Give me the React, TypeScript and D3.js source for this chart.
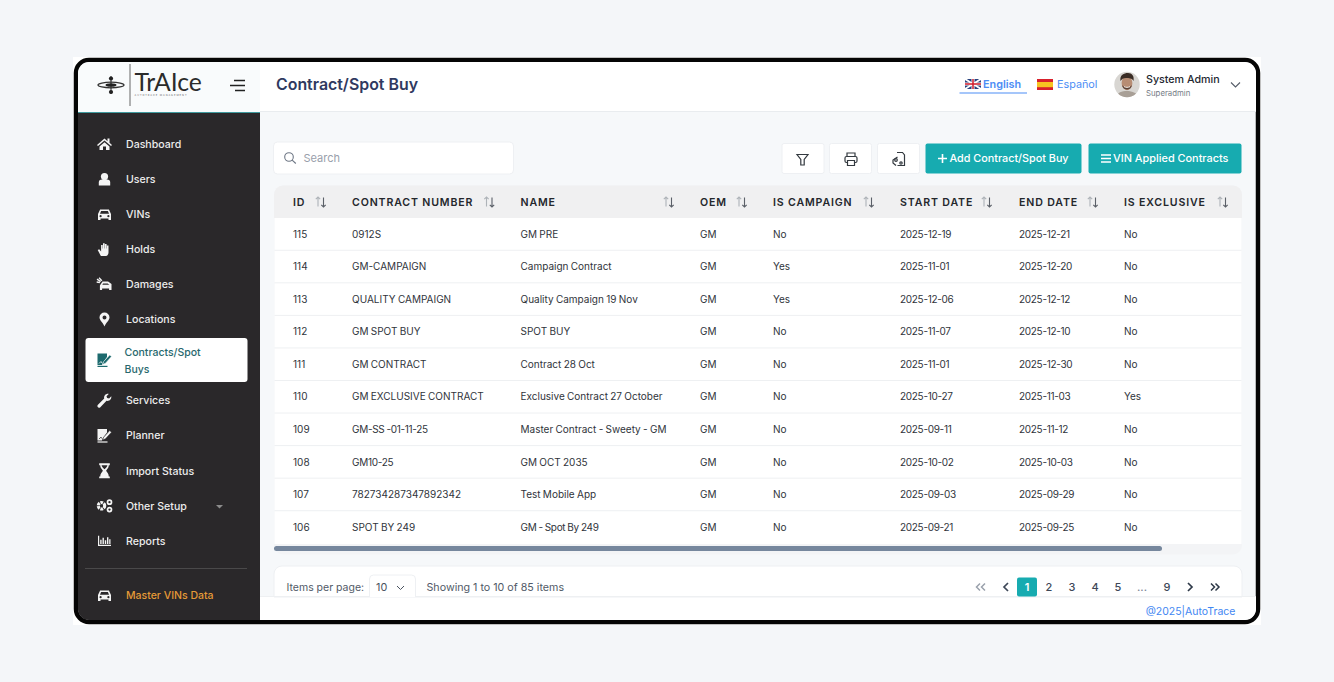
import React from "react";
import * as d3 from "d3";

const menuLabels = ["Dashboard", "Users", "VINs", "Holds", "Damages", "Locations", "Contracts/Spot Buys", "Services", "Planner", "Import Status", "Other Setup", "Reports"];
const menuCentres = [144.6, 179.6, 214.6, 249.6, 284.6, 319.6, 360, 400.6, 435.6, 470.8, 505.8, 540.8];
const headers = ["ID", "CONTRACT NUMBER", "NAME", "OEM", "IS CAMPAIGN", "START DATE", "END DATE", "IS EXCLUSIVE"];
const columnLefts = [293, 352, 520.5, 700, 773, 900, 1019, 1124];
const sortLefts = [321, 489.5, 669, 742, 869, 987, 1093, 1223];
const ids = ["115", "114", "113", "112", "111", "110", "109", "108", "107", "106"];
const contractNumbers = ["0912S", "GM-CAMPAIGN", "QUALITY CAMPAIGN", "GM SPOT BUY", "GM CONTRACT", "GM EXCLUSIVE CONTRACT", "GM-SS -01-11-25", "GM10-25", "782734287347892342", "SPOT BY 249"];
const names = ["GM PRE", "Campaign Contract", "Quality Campaign 19 Nov", "SPOT BUY", "Contract 28 Oct", "Exclusive Contract 27 October", "Master Contract - Sweety - GM", "GM OCT 2035", "Test Mobile App", "GM - Spot By 249"];
const oems = ["GM", "GM", "GM", "GM", "GM", "GM", "GM", "GM", "GM", "GM"];
const campaigns = ["No", "Yes", "Yes", "No", "No", "No", "No", "No", "No", "No"];
const startDates = ["2025-12-19", "2025-11-01", "2025-12-06", "2025-11-07", "2025-11-01", "2025-10-27", "2025-09-11", "2025-10-02", "2025-09-03", "2025-09-21"];
const endDates = ["2025-12-21", "2025-12-20", "2025-12-12", "2025-12-10", "2025-12-30", "2025-11-03", "2025-11-12", "2025-10-03", "2025-09-29", "2025-09-25"];
const exclusives = ["No", "No", "No", "No", "No", "Yes", "No", "No", "No", "No"];
const pages = ["1", "2", "3", "4", "5", "...", "9"];
const pageCentres = [1027, 1049, 1072, 1095, 1118, 1142, 1167];

const F = "Inter, 'Noto Sans', sans-serif";
const TEAL = "#17abb0";
const rowY = d3.scalePoint<string>().domain(ids).range([234, 527]);
const rowStep = rowY.step();
const menuY = d3.scaleOrdinal<string, number>().domain(menuLabels).range(menuCentres);
const columnX = d3.scaleOrdinal<string, number>().domain(headers).range(columnLefts);
const sortX = d3.scaleOrdinal<string, number>().domain(headers).range(sortLefts);
const pageX = d3.scaleOrdinal<string, number>().domain(pages).range(pageCentres);
const rowColumns = [ids, contractNumbers, names, oems, campaigns, startDates, endDates, exclusives];

const CAR = "M-6.5 5.5V-.5L-4.4-5H4.4L6.5-.5V5.5H4V4H-4V5.5ZM-3.4-3.6-4.5-.8H4.5L3.4-3.6ZM-5 1.6a1.1 1.1 0 1 0 2.2 0a1.1 1.1 0 1 0-2.2 0M2.8 1.6a1.1 1.1 0 1 0 2.2 0a1.1 1.1 0 1 0-2.2 0";

function MenuIcon({ i, y }: { i: number; y: number }) {
  const x = 104.5;
  const w = "#f4f4f4";
  const g = (c: React.ReactNode) => <g transform={`translate(${x},${y})`}>{c}</g>;
  switch (i) {
    case 0: return g(<path d="M-7.5 0.5L0-6l3 2.6V-6h2v4.2L7.5 .5 6.5 1.5 0-4-6.5 1.5ZM-5 2L0-2.3 5 2V5.5H1.5V2h-3V5.5H-5Z" fill={w} />);
    case 1: return g(<><circle cy={-3} r={3.6} fill={w} /><path d="M-5.7 6V2.5C-5.7 .8-4 0-2.5 0h5C4 0 5.7.8 5.7 2.5V6Z" fill={w} /></>);
    case 2: return g(<path d={CAR} fill={w} fillRule="evenodd" />);
    case 3: return g(<path d="M-3.6 6.5-6.8 .5l1.5-.8L-3.4 2V-4.5h1.6V-1h.3V-6.3h1.7V-1h.3V-5.5H2.1V-1h.3V-4H4V3C4 5.2 2.6 6.5 .8 6.5Z" fill={w} />);
    case 4: return g(<><path d="M-4.6 1-2-3H3.6L7-.5V5.5H4.6V4H-2.4V5.5H-4.6Z" fill={w} /><path d="M-7.5-5.5-3.8-3M-5.5-6.8-2.6-3.8M-7.8-2.6-4.6-2" stroke={w} strokeWidth={1.3} /><path d="M-1.4-1.2H3.2L4.8 .2H-2.2Z" fill="#2a282a" /></>);
    case 5: return g(<path fillRule="evenodd" d="M0 7C-1.2 3.5-5 .8-5-2A5 5 0 1 1 5-2C5 .8 1.2 3.5 0 7ZM-2-2a2 2 0 1 0 4 0a2 2 0 1 0-4 0Z" fill={w} />);
    case 6: return g(<><path d="M-7-6.5H2.5V-3L-1.5 2.5-2.5 5H-7Z" fill="#1d6a6e" /><path d="M-7 5.8H3V7H-7Z" fill="#1d6a6e" /><path d="M-2 4.5-.8 1.5 5.2-5 7-3.4 1 3.2Z" fill="#1d6a6e" stroke="#fff" strokeWidth={.5} /><path d="M-5.5 3.5-3.5 1.5-2.5 3" stroke="#fff" strokeWidth={.8} fill="none" /></>);
    case 7: return g(<path d="M-6.8 4.4-.3-2C-.9-4.6 1-7 4.2-6.7L2-4.4 2.6-2.6 4.6-2 6.8-4.4C7.2-1.4 4.8.8 2 .2L-4.4 6.8C-5.9 8-8 5.9-6.8 4.4Z" fill={w} />);
    case 8: return g(<><path d="M-7-6.5H2.5V-3L-1.5 2.5-2.5 5H-7Z" fill={w} /><path d="M-7 5.8H3V7H-7Z" fill={w} /><path d="M-2 4.5-.8 1.5 5.2-5 7-3.4 1 3.2Z" fill={w} stroke="#2a282a" strokeWidth={.5} /><path d="M-5.5 3.5-3.5 1.5-2.5 3" stroke="#2a282a" strokeWidth={.8} fill="none" /></>);
    case 9: return g(<><path d="M-5.3-7.5H5.3V-5.6H4.3C4.3-2.6 2.2-1.5 1.6 0 2.2 1.5 4.3 2.6 4.3 5.6H5.3V7.5H-5.3V5.6H-4.3C-4.3 2.6-2.2 1.5-1.6 0-2.2-1.5-4.3-2.6-4.3-5.6H-5.3Z" fill={w} /><path d="M-2.9-5.6H2.9C2.8-4 1.5-3 0-1.6-1.5-3-2.8-4-2.9-5.6Z" fill="#2a282a" /></>);
    case 10: return g(<><circle cx={-3} cy={0} r={3.2} fill="none" stroke={w} strokeWidth={3.2} strokeDasharray="2.6 .8" /><circle cx={-3} cy={0} r={1.2} fill="#2a282a" /><circle cx={5} cy={-3.6} r={2} fill="none" stroke={w} strokeWidth={1.7} /><circle cx={5} cy={3.8} r={2} fill="none" stroke={w} strokeWidth={1.7} /></>);
    default: return g(<path d="M-6.5-5H-5.3V4H6.5V5.2H-6.5ZM-4.3-1H-2.9V3.2H-4.3ZM-2-3H-.6V3.2H-2ZM.3-.5H1.7V3.2H.3ZM2.5-3.5H3.9V3.2H2.5ZM4.7-1.5H6V3.2H4.7Z" fill={w} />);
  }
}

function SortIcon({ x }: { x: number }) {
  return (
    <g transform={`translate(${x},202)`} fill="none" strokeWidth={1.1}>
      <path d="M-3-5V4.5M-5.2-2.8-3-5-.8-2.8" stroke="#aeb3b8" />
      <path d="M2.5-4.5V5M.3 2.8 2.5 5 4.7 2.8" stroke="#5b6068" />
    </g>
  );
}

export default function App() {
  return (
    <svg width={1334} height={682} style={{ position: "absolute", left: 0, top: 0, fontFamily: F }}>
      <rect width={1334} height={682} fill="#f4f6f9" />
      <rect x={73} y={57} width={1188} height={568} fill="#fff" />
      <rect x={76} y={60} width={1182} height={562} rx={13} fill="#f6f8fa" stroke="#050505" strokeWidth={4.5} />
      <clipPath id="inner"><rect x={78} y={62} width={1178} height={558} rx={11} /></clipPath>
      <g clipPath="url(#inner)">
        <rect x={260} y={62} width={996} height={50} fill="#fff" />
        <line x1={260} x2={1256} y1={111.5} y2={111.5} stroke="#e9ecef" />
        <rect x={78} y={62} width={182} height={50} fill="#f9fbfc" />
        <rect x={78} y={112} width={182} height={508} fill="#2a282a" />
        <line x1={78} x2={260} y1={112.5} y2={112.5} stroke="#3f9a9e" />
        <rect x={260} y={597} width={996} height={23} fill="#fff" />
      </g>

      {/* logo */}
      <g transform="translate(111,85)">
        <ellipse rx={13} ry={2.8} fill="none" stroke="#333" strokeWidth={1.3} />
        <ellipse rx={5.5} ry={1.8} fill="#222" />
        <circle cy={-6.5} r={2.1} fill="#222" />
        <circle cy={7} r={2.1} fill="#222" />
        <line y1={-9} y2={9} stroke="#222" strokeWidth={1} />
      </g>
      <line x1={130} x2={130} y1={64} y2={106} stroke="#666" strokeWidth={1} />
      <text x={134.5} y={91} fontSize={24.7} fill="#2b2b2b" fontFamily="Lato, Inter, sans-serif">TrAIce</text>
      <text x={134.5} y={95.5} fontSize={2.5} letterSpacing={.95} fill="#666">AUTOTRACE MANAGEMENT</text>
      <path d="M234 80.5H245M230 85.5H245M235 90.5H245" stroke="#222" strokeWidth={1.5} />

      <text x={276} y={90} fontSize={15.9} fontWeight={600} fill="#2f3960">Contract/Spot Buy</text>

      {/* language */}
      <g transform="translate(965,79)">
        <rect width={16} height={10} fill="#27407d" />
        <path d="M0 0 16 10M16 0 0 10" stroke="#fff" strokeWidth={2} />
        <path d="M8 0V10M0 5H16" stroke="#fff" strokeWidth={3} />
        <path d="M8 0V10M0 5H16" stroke="#cf1b2b" strokeWidth={1.5} />
      </g>
      <text x={983} y={88} fontSize={10.8} fontWeight={600} fill="#4c8df5">English</text>
      <line x1={959.5} x2={1027} y1={93} y2={93} stroke="#4c8df5" strokeWidth={1.2} />
      <g transform="translate(1037,79)">
        <rect width={16} height={11} fill="#d8202c" />
        <rect y={3} width={16} height={5.2} fill="#f7c321" />
      </g>
      <text x={1057} y={88} fontSize={10.8} fill="#4c8df5">Español</text>
      <clipPath id="avatar"><circle cx={1127} cy={84.5} r={12.7} /></clipPath>
      <g clipPath="url(#avatar)">
        <rect x={1114} y={71} width={27} height={27} fill="#d8d6d2" />
        <path d="M1116 98C1117 92 1122 91 1127 91S1138 93 1139 98Z" fill="#a89f96" />
        <ellipse cx={1127} cy={83} rx={5.4} ry={7.2} fill="#b78d74" />
        <path d="M1120.5 81C1119.5 75 1124 73 1128 73S1134.5 76 1133.5 81C1132 78 1129 78 1126 78S1122 79 1120.5 81Z" fill="#3a2c25" />
        <path d="M1122 85C1123 91 1131 91 1132 85C1130 88 1124 88 1122 85Z" fill="#5a4338" />
        <path d="M1124 86.6C1125.5 87.6 1128.5 87.6 1130 86.6" stroke="#f4ede7" strokeWidth={1} fill="none" />
      </g>
      <text x={1146} y={82.5} fontSize={10.7} fontWeight={500} fill="#23272f">System Admin</text>
      <text x={1146} y={95.5} fontSize={7.8} fill="#767c86">Superadmin</text>
      <path d="M1231 82.5 1235.5 87 1240 82.5" fill="none" stroke="#555c68" strokeWidth={1.1} />

      {/* sidebar */}
      <rect x={85.5} y={338} width={162} height={44} rx={3} fill="#fff" />
      {menuLabels.map((label, i) => {
        const y = menuY(label);
        if (i === 6) {
          return (
            <g key={label}>
              <MenuIcon i={i} y={y} />
              <text x={124.5} y={355.5} fontSize={10.5} fontWeight={500} fill="#27686d">Contracts/Spot</text>
              <text x={124.5} y={373} fontSize={10.5} fontWeight={500} fill="#27686d">Buys</text>
            </g>
          );
        }
        return (
          <g key={label}>
            <MenuIcon i={i} y={y} />
            <text x={126} y={y + 3.8} fontSize={10.6} fontWeight={500} fill="#ececec">{label}</text>
          </g>
        );
      })}
      <path d="M216 505H223L219.5 508.5Z" fill="#8c8c8c" />
      <line x1={85} x2={247} y1={568.5} y2={568.5} stroke="#4a494a" />
      <g transform="translate(104.5,595.6)"><path d={CAR} fill="#f4f4f4" fillRule="evenodd" /></g>
      <text x={126} y={599.4} fontSize={10.5} fontWeight={500} fill="#e59a37">Master VINs Data</text>

      {/* toolbar */}
      <rect x={273.5} y={142} width={240} height={32} rx={4} fill="#fff" stroke="#eef0f3" />
      <circle cx={289} cy={157} r={4.3} fill="none" stroke="#6d7684" strokeWidth={1.1} />
      <line x1={292.2} y1={160.2} x2={295.8} y2={163.5} stroke="#6d7684" strokeWidth={1.1} />
      <text x={303.5} y={162} fontSize={11} fill="#99a0ab">Search</text>
      {[782, 829.5, 877.5].map(x => <rect key={x} x={x} y={143.5} width={42} height={30} rx={2} fill="#fff" stroke="#eef0f3" />)}
      <path d="M797 155H808L804.2 160V165.5H800.8V160Z" fill="none" stroke="#33393f" strokeWidth={1.2} transform="translate(0,-.5)" />
      <g fill="none" stroke="#33393f" strokeWidth={1.2}>
        <rect x={845} y={156.5} width={12} height={6} rx={1.5} />
        <path d="M847 156V153H855V156M847.5 160.5H854.5V165.5H847.5Z" fill="#fff" />
        <path d="M897 152.5H902.5L904.5 155V165.5H897.5M897.5 157 893 160V163L896 165.5" />
        <circle cx={901} cy={163} r={1.2} />
        <circle cx={896} cy={160} r={1.3} />
      </g>
      <rect x={925.5} y={143.5} width={156} height={30} rx={2} fill={TEAL} />
      <path d="M938 158.5H947M942.5 154V163" stroke="#fff" strokeWidth={1.6} />
      <text x={949.5} y={162.3} fontSize={10.8} fontWeight={500} fill="#fff">Add Contract/Spot Buy</text>
      <rect x={1088.5} y={143.5} width={153} height={30} rx={2} fill={TEAL} />
      <path d="M1101 155H1111M1101 158.5H1111M1101 162H1111" stroke="#fff" strokeWidth={1.3} />
      <text x={1113} y={162.3} fontSize={10.9} fontWeight={500} fill="#fff">VIN Applied Contracts</text>

      {/* table */}
      <rect x={274} y={185.5} width={968} height={369} rx={9} fill="#f3f4f6" />
      <rect x={274.5} y={218} width={967} height={326} fill="#fff" />
      <path d="M274 218V194.5A9 9 0 0 1 283 185.5H1233A9 9 0 0 1 1242 194.5V218Z" fill="#f0f0f1" />
      {headers.map(h => (
        <g key={h}>
          <text x={columnX(h)} y={205.5} fontSize={10.6} fontWeight={600} letterSpacing={0.85} fill="#24272c">{h}</text>
          <SortIcon x={sortX(h)} />
        </g>
      ))}
      {ids.map((id, r) => (
        <g key={id}>
          {r < ids.length - 1 && (
            <line x1={274.5} x2={1241.5} y1={rowY(id)! + rowStep / 2} y2={rowY(id)! + rowStep / 2} stroke="#eef0f2" />
          )}
          {rowColumns.map((col, c) => (
            <text key={c} x={columnLefts[c]} y={rowY(id)! + 3.7} fontSize={10} wordSpacing={-0.5}
              letterSpacing={col[r].includes("-") && /\d/.test(col[r]) ? -0.3 : 0} fill="#30343b">{col[r]}</text>
          ))}
        </g>
      ))}
      <rect x={274} y={546} width={888} height={5} rx={2.5} fill="#76879d" />

      {/* footer */}
      <path d="M274 597V574A8 8 0 0 1 282 566H1234A8 8 0 0 1 1242 574V597Z" fill="#fff" stroke="#eef0f3" />
      <line x1={260} x2={1256} y1={596.5} y2={596.5} stroke="#eef0f2" />
      <text x={286.5} y={591} fontSize={10.5} fill="#515a67">Items per page:</text>
      <path d="M369.5 597V579A4 4 0 0 1 373.5 575H411.5A4 4 0 0 1 415.5 579V597" fill="#fff" stroke="#eef0f3" />
      <text x={376} y={591} fontSize={10.8} fill="#4a5360">10</text>
      <path d="M397 586 400.5 589.5 404 586" fill="none" stroke="#4a5360" strokeWidth={1} />
      <text x={426.5} y={591} fontSize={10.7} fill="#515a67">Showing 1 to 10 of 85 items</text>

      <g fill="none" strokeWidth={1.5}>
        <path d="M980 583.5 976.5 587 980 590.5M985 583.5 981.5 587 985 590.5" stroke="#9aa1ac" />
        <path d="M1008 583 1004 587 1008 591" stroke="#3d4757" strokeWidth={1.7} />
        <path d="M1188 583 1192 587 1188 591" stroke="#2e3948" strokeWidth={1.7} />
        <path d="M1211 583.5 1214.5 587 1211 590.5M1215.5 583.5 1219 587 1215.5 590.5" stroke="#2e3948" />
      </g>
      <rect x={1017} y={577.5} width={20} height={19} rx={2} fill={TEAL} />
      {pages.map((p, i) => (
        <text key={p} x={pageX(p)} y={591} textAnchor="middle" fontSize={11} fontWeight={i === 0 ? 600 : 500} fill={i === 0 ? "#fff" : p === "..." ? "#7b8594" : "#3d4757"}>{p}</text>
      ))}
      <text x={1235.5} y={615} textAnchor="end" fontSize={10.5} fill="#3f86f2">@2025|AutoTrace</text>
    </svg>
  );
}
